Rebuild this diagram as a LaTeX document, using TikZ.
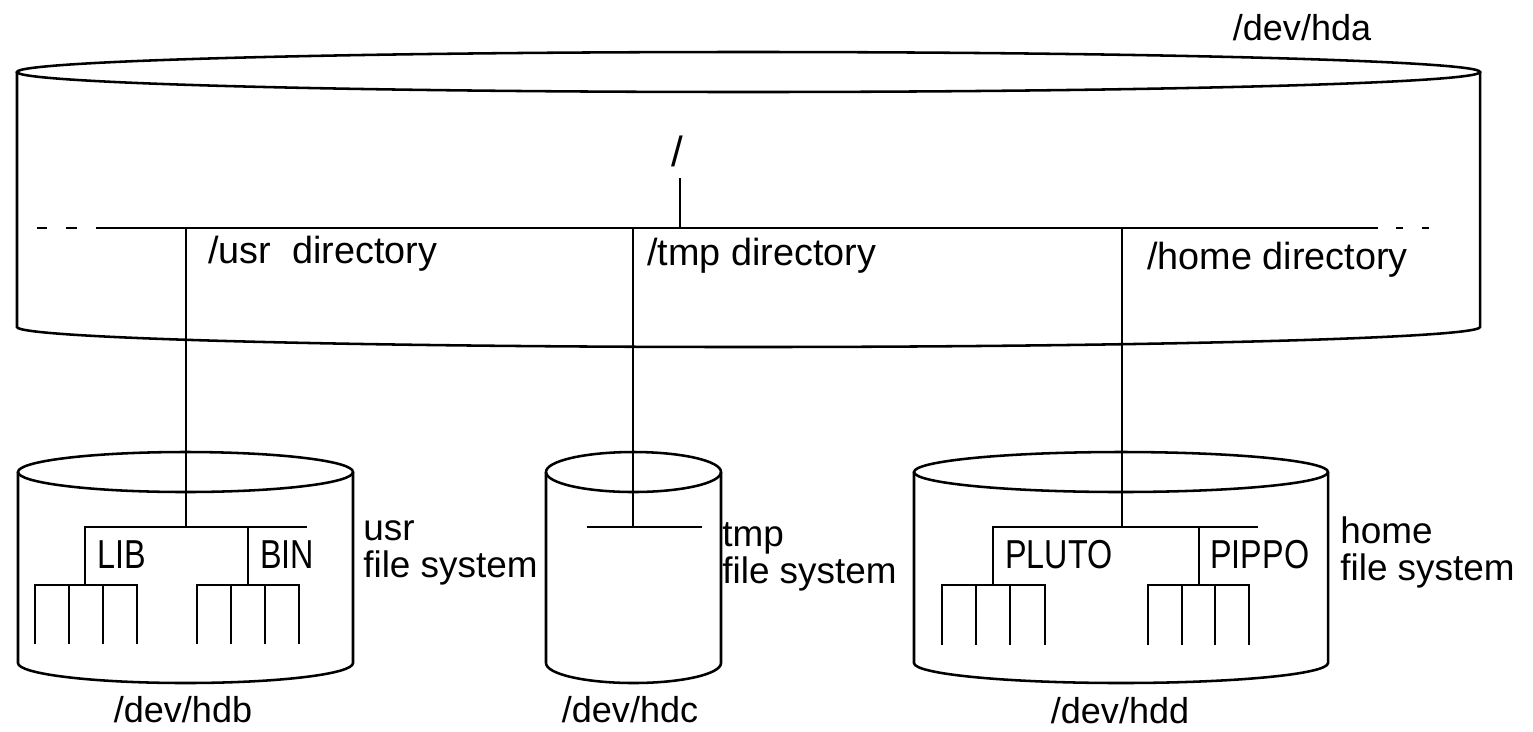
\documentclass[tikz,border=0pt]{standalone}
\usepackage{fontspec}
\setmainfont{Liberation Sans}
\newfontfamily\condfont[FakeStretch=0.8]{Liberation Sans}
\newcommand\drawcyl[5]{%
  \draw[ln] (#1,#2) ellipse [x radius=#4, y radius=#5];
  \draw[ln] ({#1-#4},#2) -- ({#1-#4},#3) arc[start angle=180,end angle=0,x radius=#4,y radius=#5] -- ({#1+#4},#2);
}
\begin{document}
\begin{tikzpicture}[x=0.02cm,y=-0.02cm,
  ln/.style={line width=1.45pt, line cap=butt, line join=miter},
  lbl/.style={inner sep=0pt, font=\fontsize{20.5}{21}\selectfont},
  dirlbl/.style={inner sep=0pt, font=\fontsize{21.5}{22}\selectfont},
  sublbl/.style={inner sep=0pt, font=\fontsize{23}{23}\condfont},
  fslbl/.style={inner sep=0pt, align=left, font=\fontsize{21}{20.5}\selectfont},
]
\useasboundingbox (0,0) rectangle (1533,731);

% cylinders
\drawcyl{748.5}{72}{327}{731.5}{20}
\drawcyl{185.5}{472}{663}{167.5}{20}
\drawcyl{633.5}{472}{663}{87.5}{20}
\drawcyl{1121}{472}{663}{207}{20}

% labels
\node[lbl, anchor=base] (hda) at (1302,40) {/dev/hda};
\node[lbl, anchor=base] (hdb) at (183,722) {/dev/hdb};
\node[lbl, anchor=base] (hdc) at (630,722) {/dev/hdc};
\node[lbl, anchor=base] (hdd) at (1120,723) {/dev/hdd};
\node[dirlbl, anchor=base, font=\fontsize{24}{24}\selectfont] (root) at (677,166) {/};
\node[dirlbl, anchor=base west] (usrdir) at (208,263) {/usr\ \ directory};
\node[dirlbl, anchor=base west] (tmpdir) at (647,265) {/tmp directory};
\node[dirlbl, anchor=base west] (homedir) at (1147,269) {/home directory};
\node[sublbl, anchor=base west] (lib) at (97,568) {LIB};
\node[sublbl, anchor=base west] (bin) at (260,568) {BIN};
\node[sublbl, anchor=base west] (pluto) at (1005,568) {PLUTO};
\node[sublbl, anchor=base west] (pippo) at (1210,568) {PIPPO};
\node[fslbl, anchor=base west] (usrfs) at (363,577) {usr\\file system};
\node[fslbl, anchor=base west] (tmpfs) at (722,583) {tmp\\file system};
\node[fslbl, anchor=base west] (homefs) at (1340,580) {home\\file system};

% main directory line
\coordinate (mainL) at (96,228);
\coordinate (mainR) at (1378,228);
\draw[ln] (mainL) -- (mainR);
\draw[ln] (37,228) -- (47,228) (66,228) -- (77,228);
\draw[ln] (1396,228) -- (1403,228) (1422,228) -- (1429,228);
\coordinate (rootTop) at (680,178);
\coordinate (rootJ) at (680,228);
\draw[ln] (rootTop) -- (rootJ);

% mount connectors
\coordinate (usrJ) at (186,228);  \coordinate (usrB) at (186,527);
\coordinate (tmpJ) at (633,228);  \coordinate (tmpB) at (633,527);
\coordinate (homeJ) at (1122,228); \coordinate (homeB) at (1122,527);
\draw[ln] (usrJ) -- (usrB);
\draw[ln] (tmpJ) -- (tmpB);
\draw[ln] (homeJ) -- (homeB);

% usr file system tree
\draw[ln] (85,585) -- (85,527) -- (307,527);
\draw[ln] (248,527) -- (248,585);
\draw[ln] (35,644) -- (35,585) -- (137,585) -- (137,644);
\foreach \x in {69,103} \draw[ln] (\x,585) -- (\x,644);
\draw[ln] (197,644) -- (197,585) -- (299,585) -- (299,644);
\foreach \x in {231,265} \draw[ln] (\x,585) -- (\x,644);

% tmp file system
\draw[ln] (587,527) -- (702,527);

% home file system tree
\draw[ln] (993,585) -- (993,527) -- (1258,527);
\draw[ln] (1199,527) -- (1199,585);
\draw[ln] (942,645) -- (942,585) -- (1045,585) -- (1045,645);
\foreach \x in {976,1010} \draw[ln] (\x,585) -- (\x,645);
\draw[ln] (1148,645) -- (1148,585) -- (1249,585) -- (1249,645);
\foreach \x in {1182,1215} \draw[ln] (\x,585) -- (\x,645);
\end{tikzpicture}
\end{document}
